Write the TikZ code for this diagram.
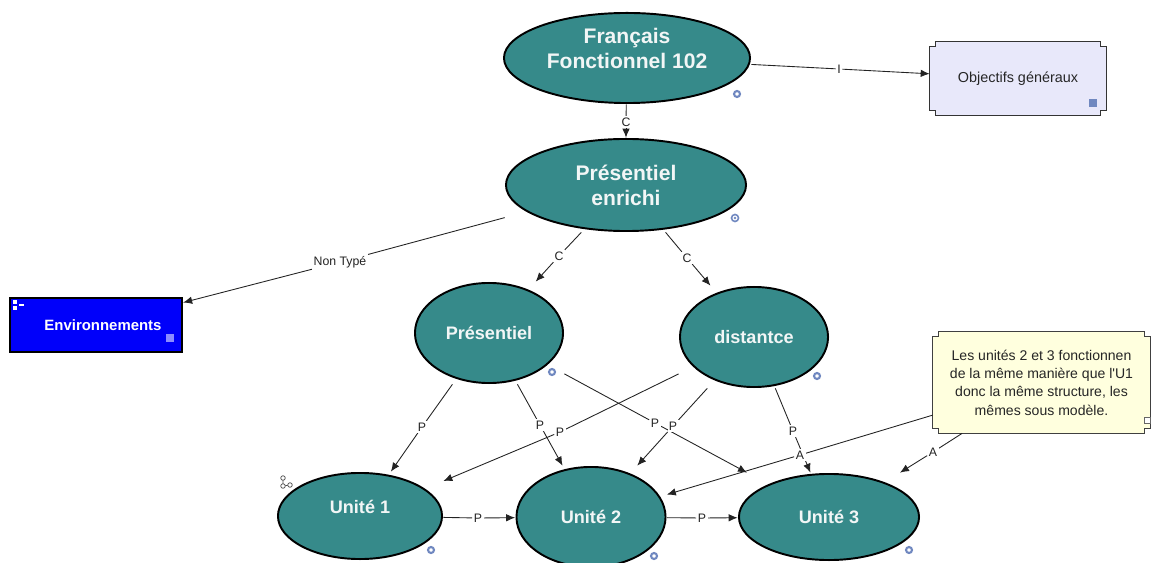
\documentclass[tikz,border=0pt]{standalone}
\usepackage{fontspec}
\setmainfont{Liberation Sans}
\usetikzlibrary{positioning,calc,arrows.meta}
\pgfdeclarelayer{background}
\pgfdeclarelayer{foreground}
\pgfsetlayers{background,main,foreground}

\definecolor{conceptfill}{RGB}{54,138,138}
\definecolor{concepttext}{RGB}{242,246,246}
\definecolor{objfill}{RGB}{232,232,250}
\definecolor{notefill}{RGB}{255,255,222}
\definecolor{envfill}{RGB}{0,0,250}
\definecolor{iconblue}{RGB}{112,136,192}
\definecolor{linkgray}{RGB}{35,35,35}

\newcommand{\pxu}{0.02cm}
% notched card outline round a node
\newcommand{\cardoutline}[2]{%
  \draw[#2] ($(#1.north west)+(6,0)$) -- ($(#1.north east)+(-6,0)$) -- ++(0,5) -- ++(6,0)
    -- ($(#1.south east)+(0,-5)$) -- ++(-6,0) -- ++(0,5) -- ($(#1.south west)+(6,0)$)
    -- ++(0,-5) -- ++(-6,0) -- ($(#1.north west)+(0,5)$) -- ++(6,0) -- cycle;}

\begin{document}
\begin{tikzpicture}[x=0.02cm, y=-0.02cm,
							concept/.style={rectangle, inner sep=0pt, align=center, text=concepttext,
								path picture={\draw[black, fill=conceptfill, line width=1.1pt]
									let \p1=($(path picture bounding box.north east)-(path picture bounding box.center)$) in
									(path picture bounding box.center) ellipse [x radius={\x1-0.55pt}, y radius={\y1-0.55pt}];}},
							bigtext/.style={font=\bfseries\fontsize{12}{14.2}\selectfont},
							midtext/.style={font=\bfseries\fontsize{10.3}{12}\selectfont},
							raisedtext/.style={inner sep=0pt, align=center, text=concepttext},
							cardnode/.style={rectangle, inner sep=0pt, align=center, text=black!85},
							envbox/.style={rectangle, draw=black, line width=1.3pt, fill=envfill,
								minimum width=172*\pxu, minimum height=54*\pxu},
							linklabel/.style={fill=white, inner sep=0.8pt, text=linkgray, font=\fontsize{7}{8}\selectfont},
							link/.style={draw=linkgray, line width=0.5pt},
							arr/.style={link, -{Latex[length=1.8mm, width=1.5mm]}},
							icon/.style={draw=iconblue, line width=1.2pt},
							]
							\useasboundingbox (0,0) rectangle (1151,563);
							%Concepts
							\node[concept, minimum width=248*\pxu, minimum height=92*\pxu,
								label={[raisedtext, bigtext, yshift=10*\pxu]center:Français\\Fonctionnel 102}] (ff) at (627,58) {};
							\node[concept, bigtext, minimum width=242*\pxu, minimum height=94*\pxu] (pe) at (626,185) {Présentiel\\enrichi};
							\node[concept, midtext, minimum width=150*\pxu, minimum height=102*\pxu] (pr) at (489,333) {Présentiel};
							\node[concept, midtext, minimum width=150*\pxu, minimum height=102*\pxu] (di) at (754,337) {distantce};
							\node[concept, minimum width=166*\pxu, minimum height=88*\pxu,
								label={[raisedtext, midtext, yshift=9*\pxu]center:Unité 1}] (u1) at (360,516) {};
							\node[concept, midtext, minimum width=151*\pxu, minimum height=102*\pxu] (u2) at (591,517) {Unité 2};
							\node[concept, midtext, minimum width=182*\pxu, minimum height=88*\pxu] (u3) at (829,517) {Unité 3};
							\node[envbox, label={[text=white, font=\bfseries\fontsize{8.5}{10}\selectfont, xshift=7*\pxu]center:Environnements}] (env) at (96,325) {};
							\node[cardnode, font=\fontsize{8.2}{10}\selectfont, minimum width=176*\pxu, minimum height=73*\pxu] (obj) at (1018,78.5) {Objectifs généraux};
							\node[cardnode, font=\fontsize{8}{10.4}\selectfont, minimum width=217*\pxu, minimum height=101*\pxu] (note) at (1041.5,382.5)
								{Les unités 2 et 3 fonctionnen\\de la même manière que l\textquotesingle U1\\donc la même structure, les\\mêmes sous modèle.};
							
							%Linking phrases
							\node[linklabel] (lc0) at (626,122) {C};
							\node[linklabel] (li)  at (839,69)  {I};
							\node[linklabel] (lnt) at (340,262) {Non Typé};
							\node[linklabel] (lc1) at (559,256) {C};
							\node[linklabel] (lc2) at (687,258) {C};
							\node[linklabel] (lp1) at (422,427) {P};
							\node[linklabel] (lp2) at (540,425) {P};
							\node[linklabel] (lp3) at (655,423) {P};
							\node[linklabel] (lp4) at (560,432) {P};
							\node[linklabel] (lp5) at (673,426) {P};
							\node[linklabel] (lp6) at (793,431) {P};
							\node[linklabel] (lp7) at (478,518) {P};
							\node[linklabel] (lp8) at (702,518) {P};
							\node[linklabel] (la1) at (800,455) {A};
							\node[linklabel] (la2) at (933,452) {A};
							
							\begin{pgfonlayer}{background}
							%Cards
							\cardoutline{obj}{fill=objfill, draw=black!80, line width=0.9pt}
							\cardoutline{note}{fill=notefill, draw=black!75, line width=0.7pt}
							%Lines
							\draw[link] (ff) -- (lc0);  \draw[arr] (lc0) -- (pe);
							\draw[link] (ff) -- (li);   \draw[arr] (li) -- (obj);
							\draw[link] (pe) -- (lnt);  \draw[arr] (lnt) -- (env);
							\draw[link] (pe) -- (lc1);  \draw[arr] (lc1) -- (pr);
							\draw[link] (pe) -- (lc2);  \draw[arr] (lc2) -- (di);
							\draw[link] (pr) -- (lp1);  \draw[arr] (lp1) -- (u1);
							\draw[link] (pr) -- (lp2);  \draw[arr] (lp2) -- (u2);
							\draw[link] (pr) -- (lp3);  \draw[arr] (lp3) -- (u3);
							\draw[link] (di) -- (lp4);  \draw[arr] (lp4) -- (u1);
							\draw[link] (di) -- (lp5);  \draw[arr] (lp5) -- (u2);
							\draw[link] (di) -- (lp6);  \draw[arr] (lp6) -- (u3);
							\draw[link] (u1) -- (lp7);  \draw[arr] (lp7) -- (u2);
							\draw[link] (u2) -- (lp8);  \draw[arr] (lp8) -- (u3);
							\draw[link] (note) -- (la1); \draw[arr] (la1) -- (u2);
							\draw[link] (note) -- (la2); \draw[arr] (la2) -- (u3);
							\end{pgfonlayer}
							
							%Icons
							\foreach \p in {(737,94),(552,372),(817,376),(431,550),(654,556),(909,550)}
								\draw[icon] \p circle [radius=1.7pt];
							\draw[icon, line width=0.9pt] (735,218) circle [radius=2pt];
							\fill[iconblue] (735,218) circle [radius=0.8pt];
							\fill[iconblue] (1089,99) rectangle (1097,107);
							\fill[blue!45!white] (166,334) rectangle (174,342);
							\draw[black!60, fill=white, line width=0.4pt] (1144,417) rectangle (1150,423);
							\fill[white] (13,300) rectangle (17,304);
							\fill[white] (13,306) rectangle (17,310);
							\fill[white] (19,304) rectangle (24,306);
							\draw[black!70, line width=0.4pt] (283,478) -- (283,486) -- (290,485);
							\foreach \p in {(283,478),(283,486),(290,485)}
								\draw[black!70, fill=white, line width=0.4pt] \p circle [radius=1.3pt];
						\end{tikzpicture}
\end{document}
